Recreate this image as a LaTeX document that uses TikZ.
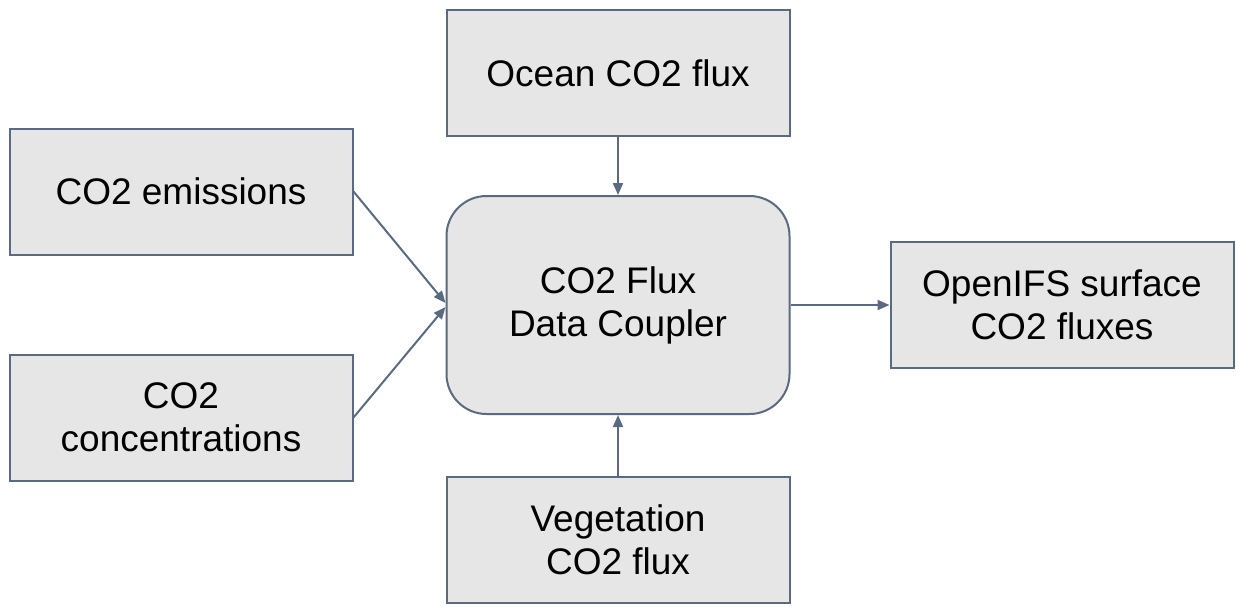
\documentclass[tikz,border=0pt]{standalone}
\usepackage{fontspec}
\setmainfont{Liberation Sans}
\usetikzlibrary{arrows.meta}
\definecolor{boxfill}{HTML}{E6E6E6}
\definecolor{boxline}{HTML}{5A6A80}
\begin{document}
\begin{tikzpicture}[x=0.5pt,y=-0.5pt,
  blk/.style={draw=boxline,fill=boxfill,line width=1pt,minimum width=171.5pt,minimum height=63pt,align=center,inner sep=0pt,font=\fontsize{18.5pt}{21.5pt}\selectfont},
  hub/.style={blk,rounded corners=20pt,minimum height=109pt},
  conn/.style={draw=boxline,line width=1pt,-{Triangle[length=6pt,width=5pt]}}]
\useasboundingbox (0,0) rectangle (1236,606);
\node[blk] (ocean) at (618,73) {Ocean CO2 flux};
\node[blk] (emis) at (181,191.5) {CO2 emissions};
\node[blk] (conc) at (181,417.5) {CO2\\concentrations};
\node[hub] (hub) at (618,305) {CO2 Flux\\Data Coupler};
\node[blk] (ifs) at (1062,305) {OpenIFS surface\\CO2 fluxes};
\node[blk] (veg) at (618,539.5) {Vegetation\\CO2 flux};
\draw[conn] (ocean.south) -- (hub.north);
\draw[conn] (emis.east) -- ([yshift=1pt]hub.west);
\draw[conn] (conc.east) -- ([yshift=-1pt]hub.west);
\draw[conn] (hub.east) -- (ifs.west);
\draw[conn] (veg.north) -- (hub.south);
\end{tikzpicture}
\end{document}
